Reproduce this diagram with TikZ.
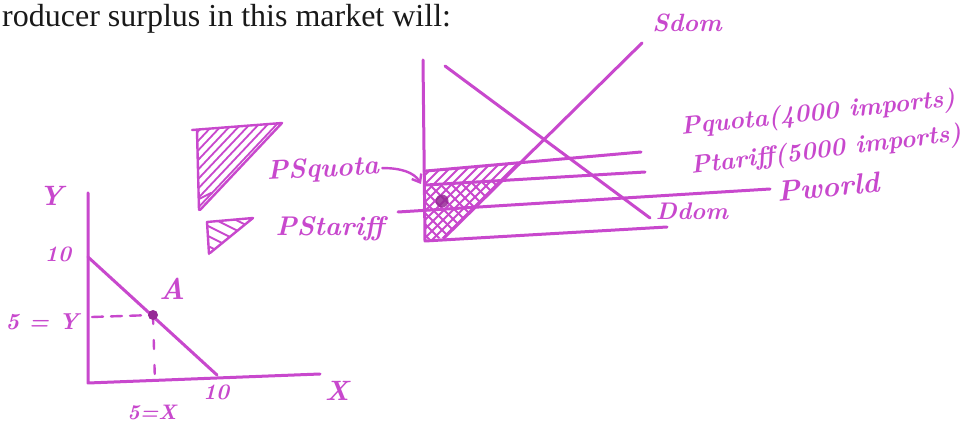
\documentclass[tikz,border=0pt]{standalone}
\usepackage{fontspec}
\newfontfamily\topfont{Liberation Serif}
\usetikzlibrary{arrows.meta}
\definecolor{penc}{RGB}{200,72,205}
\definecolor{pendark}{RGB}{150,40,150}
\definecolor{inkc}{RGB}{25,25,25}
\newcommand\hwsize[1]{\bfseries\itshape\fontsize{#1}{#1}\selectfont}
\tikzset{
  pen/.style={draw=penc, line width=3pt, line cap=round, line join=round},
  thinpen/.style={draw=penc, line width=2.4pt, line cap=round, line join=round},
  hatch/.style={draw=penc, line width=1.8pt, line cap=round},
  hw/.style={text=penc, inner sep=0pt},
}
\begin{document}
\begin{tikzpicture}[x=1pt,y=-1pt]
\useasboundingbox (0,0) rectangle (979,435);
\fill[white] (0,0) rectangle (979,435);

% top text
\node[anchor=base west, inner sep=0pt, text=inkc, font=\topfont\fontsize{32}{36}\selectfont] (title) at (2,27) {roducer surplus in this market will:};

% ---------------- right diagram ----------------
\coordinate (vtop) at (423,60);
\coordinate (orig) at (425,241);
\coordinate (xend) at (667,227);
\coordinate (dtop) at (445,66);
\coordinate (dbot) at (650,218);
\coordinate (sbot) at (444,238);
\coordinate (stop) at (642,43);
\coordinate (qL) at (426,171);
\coordinate (qR) at (641,152);
\coordinate (tL) at (426,185);
\coordinate (tR) at (645,172);
\coordinate (wL) at (398,212);
\coordinate (wR) at (770,189);

% hatching PS quota
\begin{scope}
  \clip (425,171) -- (520.3,162.6) -- (444,238) -- (425,240) -- cycle;
  \foreach \c in {600,609,...,690} {
    \draw[hatch] (\c-250,250) -- (\c-130,130);
  }
\end{scope}
% cross hatching PS tariff
\begin{scope}
  \clip (425,185) -- (502,180.5) -- (444,238) -- (425,240) -- cycle;
  \foreach \c in {190,201,...,320} {
    \draw[hatch] (\c+150,150) -- (\c+250,250);
  }
\end{scope}
\fill[pendark, opacity=.85] (442,201) circle (6.5);

\draw[pen] (vtop) -- (orig) -- (xend);
\draw[pen] (dtop) -- (dbot);
\draw[pen] (sbot) -- (stop);
\draw[pen] (qL) -- (qR);
\draw[pen] (tL) -- (tR);
\draw[pen] (wL) -- (wR);

\node[hw, font=\hwsize{25}] (sdom) at (687,23) {Sdom};
\node[hw, font=\hwsize{24}] (ddom) at (692,211) {Ddom};
\node[hw, font=\hwsize{25}, rotate=6] (pquota) at (818,114) {Pquota(4000 imports)};
\node[hw, font=\hwsize{25}, rotate=7] (ptariff) at (826,151) {Ptariff(5000 imports)};
\node[hw, font=\hwsize{29}, rotate=5] (pworld) at (828,187) {Pworld};

% ---------------- legend ----------------
\begin{scope}
  \clip (197,130) -- (282,123) -- (200,210) -- cycle;
  \foreach \c in {322,331,...,400} {
    \draw[hatch] (\c-94.3,100) -- (\c-216.9,230);
  }
\end{scope}
\draw[thinpen] (192,130) -- (282,123) -- (200,210);
\draw[thinpen] (197,131) -- (199,210);
\draw[hatch] (199,199) -- (211,193);

\begin{scope}
  \clip (207,222) -- (253,218) -- (210,253) -- cycle;
  \foreach \c in {102,112,...,142} {
    \draw[hatch] (190,\c+95) -- (260,\c+130);
  }
\end{scope}
\draw[thinpen] (207,222) -- (253,218) -- (210,253);
\draw[thinpen] (207,222) -- (209,254);

\node[hw, font=\hwsize{27}, rotate=3] (psq) at (323,170) {PSquota};
\node[hw, font=\hwsize{27}] (pst) at (330,229) {PStariff};
\draw[thinpen, -{Straight Barb[length=7pt,width=11pt]}] ([xshift=3pt,yshift=-1pt]psq.east) .. controls (400,168) and (414,172) .. (421,184);

% ---------------- left graph ----------------
\coordinate (yt) at (88,193);
\coordinate (o2) at (88,383);
\coordinate (xe) at (320,374);
\coordinate (b1) at (88,257);
\coordinate (b2) at (217,375);
\coordinate (A) at (153,315);
\draw[pen] (yt) -- (o2) -- (xe);
\draw[pen] (b1) -- (b2);
\draw[thinpen, dash pattern=on 11pt off 8pt] (92,317) -- (A);
\draw[thinpen, dash pattern=on 9pt off 16pt] (A) -- (155,383);
\fill[pendark] (A) circle (5);

\node[hw, font=\hwsize{28}] (ylab) at (51,196) {Y};
\node[hw, font=\hwsize{22}] (y10) at (58,254) {10};
\node[hw, font=\hwsize{23}] (y5) at (42,322) {5 = Y};
\node[hw, font=\hwsize{30}] (alab) at (172,289) {A};
\node[hw, font=\hwsize{22}] (x10) at (216,392) {10};
\node[hw, font=\hwsize{21}] (x5) at (152,412) {5=X};
\node[hw, font=\hwsize{28}] (xlab) at (337,391) {X};
\end{tikzpicture}
\end{document}
